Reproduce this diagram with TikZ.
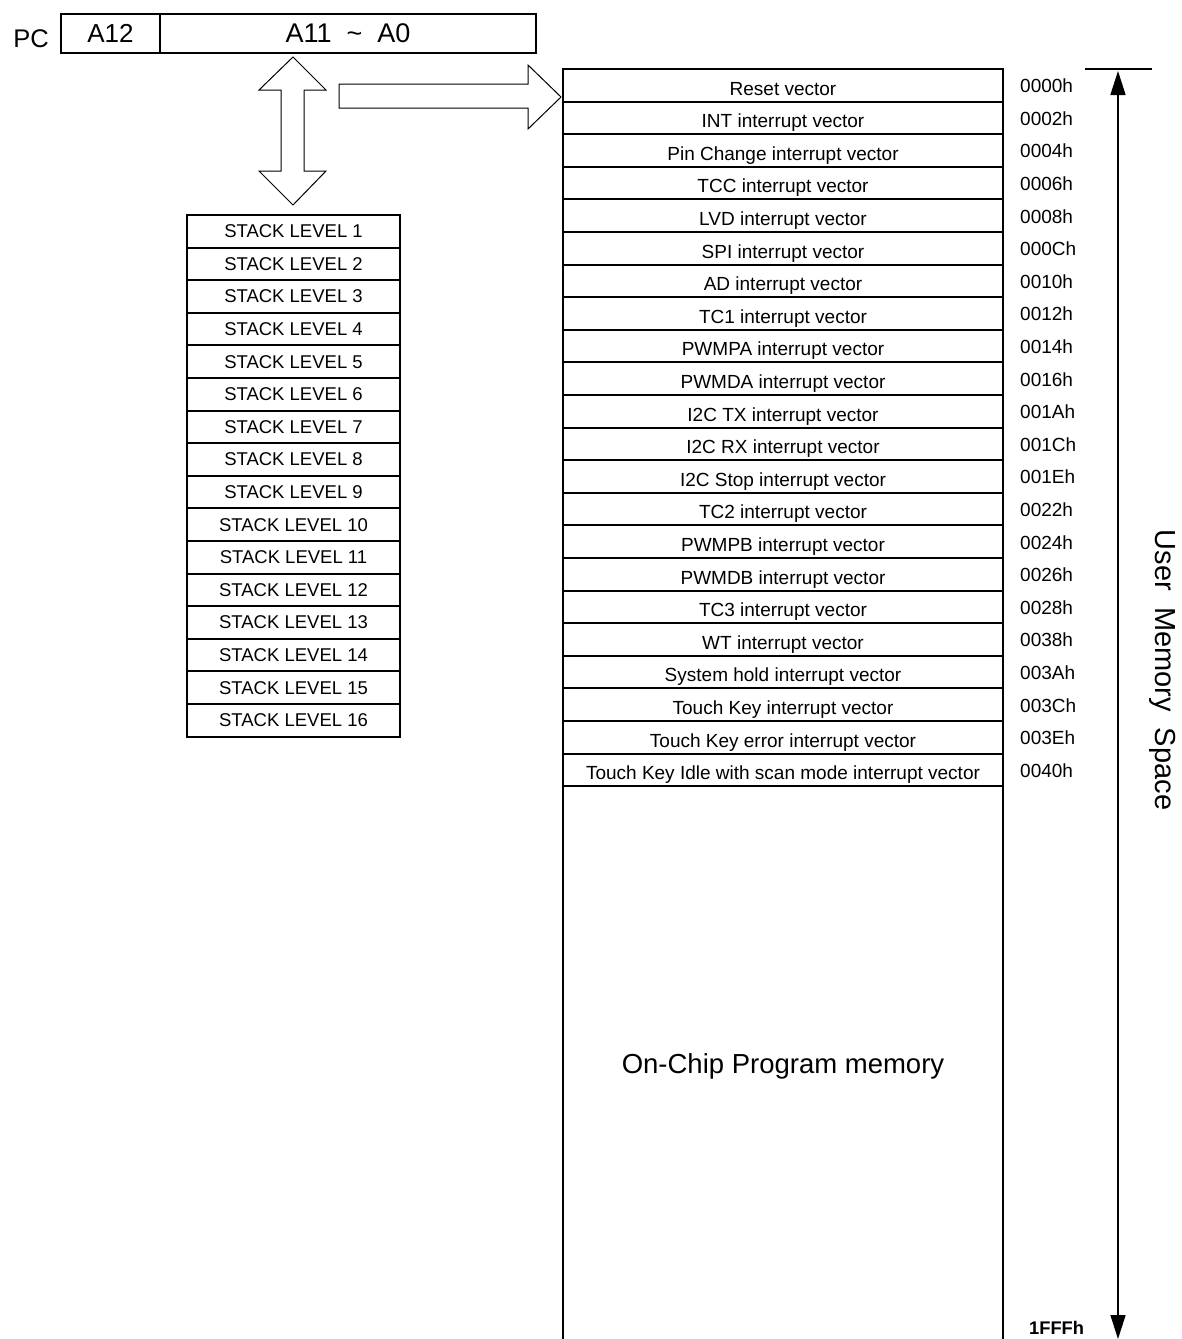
\documentclass[tikz,border=0pt]{standalone}
\usepackage{fontspec}
\setmainfont{Liberation Sans}
\usetikzlibrary{arrows.meta, positioning}
\tikzset{
  cell/.style={draw, line width=2pt, inner sep=0pt, outer sep=0pt, minimum height=32.6pt, anchor=north west},
  vecrow/.style={cell, minimum width=440pt, text height=21pt, text depth=1.5pt, font=\fontsize{19}{21}\selectfont},
  stkrow/.style={cell, minimum width=213pt, font=\fontsize{18.5}{20}\selectfont},
  adr/.style={anchor=west, inner sep=0pt, font=\fontsize{19}{21}\selectfont},
  pcbox/.style={draw, line width=2pt, inner sep=0pt, outer sep=0pt, minimum height=39pt, font=\fontsize{26}{28}\selectfont},
  hollow/.style={draw, line width=1pt, fill=white}
}
\begin{document}
\begin{tikzpicture}[x=1pt, y=-1pt]
  \useasboundingbox (0,0) rectangle (1182,1339);
  \node[font=\fontsize{25.5}{27}\selectfont] (pc) at (31,39) {PC};
  \node[pcbox, minimum width=99pt, anchor=north west] (a12) at (61,14) {A12};
  \node[pcbox, minimum width=376pt, right=0pt of a12, font=\fontsize{27}{29}\selectfont] (alow) {A11\ \ \textasciitilde\ \ A0};
  \draw[hollow] (293,57) -- (326,90) -- (304,90) -- (304,171) -- (326,171) -- (293,205)
    -- (259,171) -- (281,171) -- (281,90) -- (259,90) -- cycle;
  \draw[hollow] (339,84) -- (528,84) -- (528,65) -- (561,97) -- (528,129) -- (528,108)
    -- (339,108) -- cycle;
  \foreach \i in {1,...,16}
    \node[stkrow] (stk\i) at (187,{215+32.6*(\i-1)}) {STACK LEVEL \i};
  \foreach \txt/\addr [count=\i from 0] in {Reset vector/0000h, INT interrupt vector/0002h,
      Pin Change interrupt vector/0004h, TCC interrupt vector/0006h, LVD interrupt vector/0008h,
      SPI interrupt vector/000Ch, AD interrupt vector/0010h, TC1 interrupt vector/0012h,
      PWMPA interrupt vector/0014h, PWMDA interrupt vector/0016h, I2C TX interrupt vector/001Ah,
      I2C RX interrupt vector/001Ch, I2C Stop interrupt vector/001Eh, TC2 interrupt vector/0022h,
      PWMPB interrupt vector/0024h, PWMDB interrupt vector/0026h, TC3 interrupt vector/0028h,
      WT interrupt vector/0038h, System hold interrupt vector/003Ah,
      Touch Key interrupt vector/003Ch, Touch Key error interrupt vector/003Eh,
      Touch Key Idle with scan mode interrupt vector/0040h}
  {
    \node[vecrow] (vec\i) at (563,{69+32.6*\i}) {\txt};
    \node[adr] (adr\i) at (1020,{86+32.6*\i}) {\addr};
  }
  \draw[line width=2pt] (vec21.south west) -- (563,1339) (vec21.south east) -- (1003,1339);
  \node[font=\fontsize{27.5}{30}\selectfont] (onchip) at (783,1066) {On-Chip Program memory};
  \node[adr, font=\fontsize{18.3}{20}\selectfont\bfseries] (endadr) at (1029,1328) {1FFFh};
  \coordinate (top) at (1118,69);
  \coordinate (bot) at (1118,1339);
  \draw[line width=2pt] (1085,69) -- (1152,69);
  \draw[line width=1.6pt, {Triangle[length=24pt,width=15pt]}-{Triangle[length=24pt,width=15pt]}]
    ([yshift=-2pt]top) -- (bot);
  \node[rotate=-90, font=\fontsize{29}{31}\selectfont] (space) at (1163,670) {User~~Memory~~Space};
\end{tikzpicture}
\end{document}
